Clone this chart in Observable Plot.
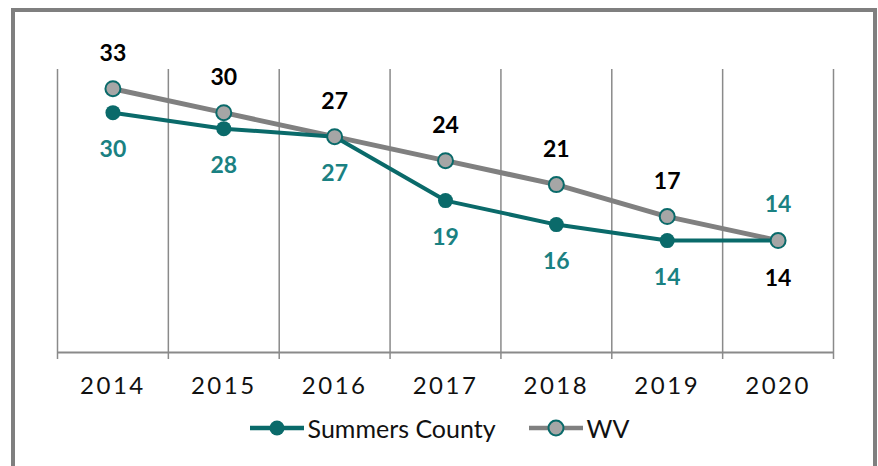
<!DOCTYPE html>
<html>
<head>
<meta charset="utf-8">
<script src="https://cdn.jsdelivr.net/npm/d3@7"></script>
<script src="https://cdn.jsdelivr.net/npm/@observablehq/plot@0.6"></script>
<style>
  html, body { margin: 0; padding: 0; background: #fff; }
  body { width: 878px; height: 466px; position: relative; overflow: hidden; font-family: Lato, "Open Sans", sans-serif; }
  #frame { position: absolute; left: 11px; top: 8px; width: 858px; height: 480px; border: 4px solid #7f7f7f; border-bottom: none; box-sizing: content-box; pointer-events: none; }
  #chart { position: absolute; left: 0; top: 0; }
  #chart svg g[aria-label="x-axis tick label"] text { letter-spacing: 2.5px; }
  #legend { position: absolute; left: 0; top: 400px; width: 878px; height: 56px; display: flex; justify-content: center; align-items: center; font-size: 25px; color: #111; }
  .item { display: flex; align-items: center; }
  .item svg { margin-right: 3px; }
</style>
</head>
<body>
<div id="chart"></div>
<div id="legend"></div>
<div id="frame"></div>
<script>
const years = [2014, 2015, 2016, 2017, 2018, 2019, 2020];
const summers = [30, 28, 27, 19, 16, 14, 14];
const wv = [33, 30, 27, 24, 21, 17, 14];
const seriesNames = ["Summers County", "WV"];

const teal = "#0a6a6a";
const tealLabel = "#1a8182";
const grey = "#808080";
const greyFill = "#a6a6a6";

const rows = [];
years.forEach((y, i) => {
  const last = i === years.length - 1;
  rows.push({series: seriesNames[0], year: y, value: summers[i], above: last});
  rows.push({series: seriesNames[1], year: y, value: wv[i], above: !last});
});
const sc = rows.filter(d => d.series === seriesNames[0]);
const st = rows.filter(d => d.series === seriesNames[1]);
const bounds = years.map(y => y - 0.5).concat([years[years.length - 1] + 0.5]);

const plot = Plot.plot({
  width: 878,
  height: 400,
  marginLeft: 57,
  marginRight: 45,
  marginTop: 69,
  marginBottom: 48,
  style: {fontFamily: "Lato, 'Open Sans', sans-serif", background: "transparent"},
  x: {domain: [bounds[0], bounds[bounds.length - 1]], label: null},
  y: {domain: [0, 35.4], axis: null},
  marks: [
    Plot.gridX(bounds, {stroke: "#8a8a8a", strokeOpacity: 1, strokeWidth: 1.5}),
    Plot.ruleY([0], {stroke: "#8a8a8a", strokeWidth: 2}),
    Plot.axisX({ticks: bounds, tickSize: 7, tickFormat: () => "", stroke: "#8a8a8a", strokeWidth: 1.5, label: null}),
    Plot.axisX({ticks: years, tickSize: 0, tickPadding: 24, tickFormat: d => String(d), fontSize: 24, fill: "#111", label: null}),
    Plot.line(st, {x: "year", y: "value", stroke: grey, strokeWidth: 5}),
    Plot.line(sc, {x: "year", y: "value", stroke: teal, strokeWidth: 4}),
    Plot.dot(sc, {x: "year", y: "value", r: 7.5, fill: teal, stroke: "none"}),
    Plot.dot(st, {x: "year", y: "value", r: 7.5, fill: greyFill, stroke: teal, strokeWidth: 2}),
    Plot.text(st, {x: "year", y: "value", text: d => String(d.value), fill: "#000", fontWeight: "bold", fontSize: 23,
      filter: d => d.above, dy: -35}),
    Plot.text(st, {x: "year", y: "value", text: d => String(d.value), fill: "#000", fontWeight: "bold", fontSize: 23,
      filter: d => !d.above, dy: 38}),
    Plot.text(sc, {x: "year", y: "value", text: d => String(d.value), fill: tealLabel, fontWeight: "bold", fontSize: 23,
      filter: d => !d.above, dy: 37}),
    Plot.text(sc, {x: "year", y: "value", text: d => String(d.value), fill: tealLabel, fontWeight: "bold", fontSize: 23,
      filter: d => d.above, dy: -36})
  ]
});
document.getElementById("chart").appendChild(plot);

// legend
const legend = document.getElementById("legend");
const swatches = [
  {name: seriesNames[0], line: teal, fill: teal, stroke: "none"},
  {name: seriesNames[1], line: grey, fill: greyFill, stroke: teal}
];
swatches.forEach((s, i) => {
  const item = document.createElement("div");
  item.className = "item";
  if (i > 0) item.style.marginLeft = "32px";
  item.innerHTML = `<svg width="56" height="20"><line x1="1" x2="55" y1="10" y2="10" stroke="${s.line}" stroke-width="4.5"/>` +
    `<circle cx="28" cy="10" r="7.5" fill="${s.fill}" stroke="${s.stroke}" stroke-width="2"/></svg><span>${s.name}</span>`;
  legend.appendChild(item);
});
</script>
</body>
</html>
